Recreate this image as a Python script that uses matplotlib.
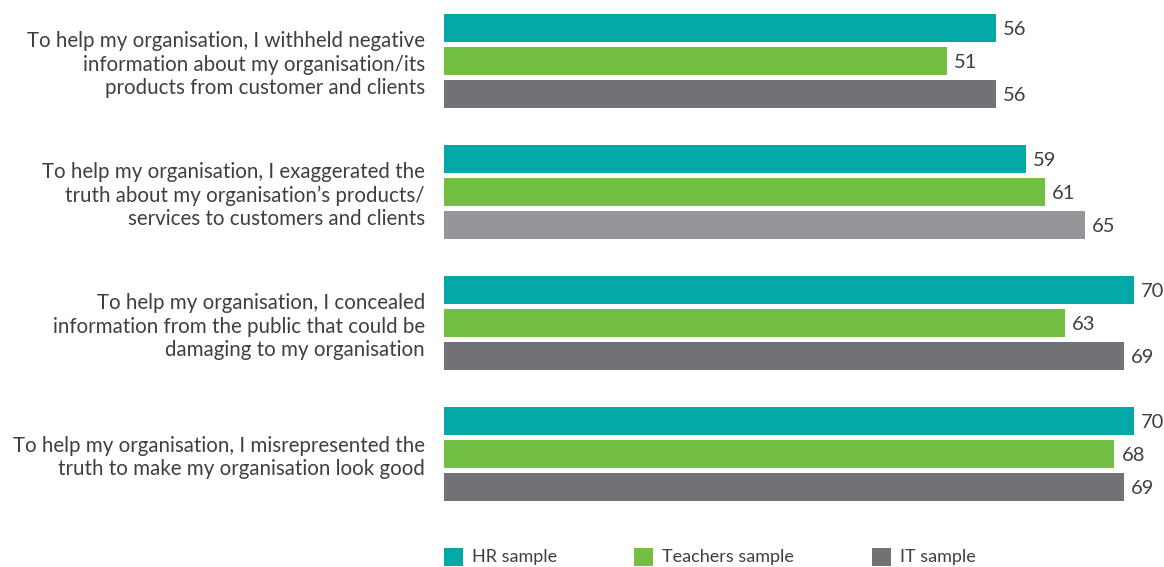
import numpy as np
import matplotlib.pyplot as plt

categories = [
    'To help my organisation, I withheld negative\ninformation about my organisation/its\nproducts from customer and clients',
    'To help my organisation, I exaggerated the\ntruth about my organisation\u2019s products/\nservices to customers and clients',
    'To help my organisation, I concealed\ninformation from the public that could be\ndamaging to my organisation',
    'To help my organisation, I misrepresented the\ntruth to make my organisation look good',
]
series_names = ['HR sample', 'Teachers sample', 'IT sample']
hr = [56, 59, 70, 70]
teachers = [51, 61, 63, 68]
it = [56, 65, 69, 69]

teal = '#03a8a7'
green = '#73bf44'
grey = '#717275'
grey_light = '#959699'
txt = '#3f3f3f'

plt.rcParams['font.family'] = ['Lato', 'DejaVu Sans']

fig = plt.figure(figsize=(11.64, 5.67), dpi=100)
ax = fig.add_axes([444 / 1164, 0, 720 / 1164, 1])

y = np.arange(len(categories))
off = 33 / 131
h = 28 / 131
it_colors = [grey, grey_light, grey, grey]

for vals, d, col in [(hr, -off, teal), (teachers, 0, green), (it, off, it_colors)]:
    bars = ax.barh(y + d, vals, height=h, color=col, linewidth=0)
    for b, v in zip(bars, vals):
        ax.text(v + 0.7, b.get_y() + b.get_height() / 2 + 0.01, str(v), va='center', ha='left',
                fontsize=14.5, color=txt)

ax.set_xlim(0, 720 / 9.86)
ax.set_ylim((567 - 61) / 131, -61 / 131)
ax.set_yticks(y)
ax.set_yticklabels(categories, fontsize=14.8, color=txt, linespacing=1.2)
ax.tick_params(axis='y', length=0, pad=13.7)
ax.set_xticks([])
for s in ax.spines.values():
    s.set_visible(False)

# legend
leg_x = [444, 634, 872]
for xp, name, col in zip(leg_x, series_names, [teal, green, grey]):
    fig.patches.append(plt.Rectangle((xp / 1164, 1 - 566 / 567), 19 / 1164, 18 / 567,
                                     transform=fig.transFigure, color=col, linewidth=0))
    fig.text((xp + 28) / 1164, 1 - 557 / 567, name, va='center', ha='left', fontsize=13, color=txt)

fig.savefig('out.png', dpi=100)
